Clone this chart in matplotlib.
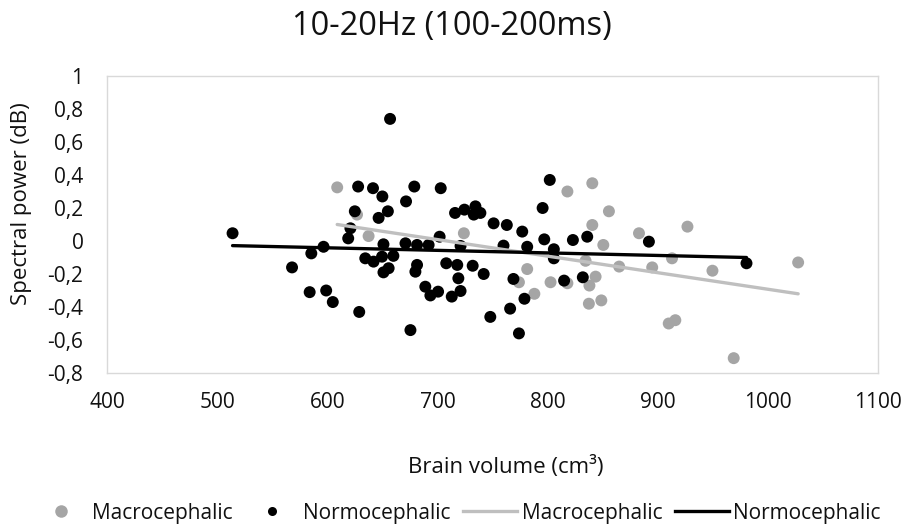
import matplotlib
matplotlib.use("Agg")
import matplotlib.pyplot as plt
from matplotlib.lines import Line2D

plt.rcParams['font.family'] = ['Open Sans', 'DejaVu Sans']

# ---- data ----
macro_x = [609, 627, 637.5, 724, 774, 781.5, 788, 802.7, 818, 818, 834.5, 838, 837.5,
           840.6, 840.6, 843.6, 848.8, 850.6, 855.7, 865, 883, 895, 910, 913, 916,
           927, 949.7, 969, 1027.5]
macro_y = [0.325, 0.16, 0.03, 0.047, -0.25, -0.17, -0.32, -0.25, -0.256, 0.30, -0.12, -0.27, -0.38,
           0.35, 0.097, -0.216, -0.36, -0.024, 0.18, -0.155, 0.047, -0.16, -0.50, -0.105, -0.48,
           0.087, -0.18, -0.71, -0.13]

normo_x = [514, 568, 584, 585.5, 596.6, 599, 605, 619, 621, 625, 628, 629, 634.5, 641.5,
           642, 646.6, 650, 649.7, 651, 651, 655, 655.7, 657, 660, 671, 671.5, 675.5,
           679, 680, 681.5, 681.5, 689, 692, 693.6, 700.6, 702, 703, 708, 713, 716,
           718, 719, 721, 721, 724.5, 732, 733, 734.5, 739, 742, 748, 751, 760, 763,
           766, 769, 774, 777, 779, 781.5, 795.5, 797, 802, 805.7, 805.7, 815, 823,
           832, 836, 892, 980.6]
normo_y = [0.047, -0.16, -0.31, -0.075, -0.035, -0.30, -0.37, 0.016, 0.077, 0.18, 0.33, -0.43, -0.105, 0.32,
           -0.125, 0.14, 0.27, -0.095, -0.02, -0.19, 0.18, -0.165, 0.74, -0.09, -0.014, 0.24, -0.54,
           0.33, -0.186, -0.024, -0.145, -0.277, -0.024, -0.33, -0.307, 0.026, 0.32, -0.135, -0.337, 0.17,
           -0.145, -0.226, -0.03, -0.303, 0.19, -0.15, 0.16, 0.21, 0.17, -0.2, -0.46, 0.107, -0.028, 0.097,
           -0.41, -0.23, -0.56, 0.057, -0.35, -0.035, 0.20, 0.01, 0.37, -0.05, -0.105, -0.24, 0.006,
           -0.22, 0.026, -0.004, -0.135]

# linear trendlines
trend_macro_x = [609, 1027.5]
trend_macro_y = [0.10, -0.32]
trend_normo_x = [514, 980.6]
trend_normo_y = [-0.028, -0.10]

x_ticks = [400, 500, 600, 700, 800, 900, 1000, 1100]
y_ticks = [-0.8, -0.6, -0.4, -0.2, 0, 0.2, 0.4, 0.6, 0.8, 1]
y_tick_labels = ['-0,8', '-0,6', '-0,4', '-0,2', '0', '0,2', '0,4', '0,6', '0,8', '1']

title = '10-20Hz (100-200ms)'
xlabel = 'Brain volume (cm³)'
ylabel = 'Spectral power (dB)'

# ---- style ----
GRAY_M = '#A5A5A5'
GRAY_L = '#BFBFBF'
BLACK = '#000000'
TEXT = '#111111'

fig = plt.figure(figsize=(9.04, 5.31), dpi=100)
ax = fig.add_axes([107/904, 1-373/531, (878-107)/904, (373-76)/531])

ax.scatter(macro_x, macro_y, s=74, color=GRAY_M, edgecolors='none', zorder=2)
ax.scatter(normo_x, normo_y, s=74, color=BLACK, edgecolors='none', zorder=2.1)
ax.plot(trend_macro_x, trend_macro_y, color=GRAY_L, lw=2.4, solid_capstyle='round', zorder=3)
ax.plot(trend_normo_x, trend_normo_y, color=BLACK, lw=2.4, solid_capstyle='round', zorder=3.1)

ax.set_xlim(400, 1100)
ax.set_ylim(-0.8, 1)
ax.set_xticks(x_ticks)
ax.set_xticklabels([str(v) for v in x_ticks])
ax.set_yticks(y_ticks)
ax.set_yticklabels(y_tick_labels)
ax.tick_params(axis='both', length=0, labelsize=15, colors=TEXT)
ax.tick_params(axis='y', pad=17)
ax.tick_params(axis='x', pad=14)
for sp in ax.spines.values():
    sp.set_color('#D9D9D9')
    sp.set_linewidth(1.0)

fig.text(452/904, 1-27/531, title, ha='center', va='center', fontsize=23.5, color=TEXT)
fig.text(506/904, 1-467/531, xlabel, ha='center', va='center', fontsize=16, color=TEXT)
fig.text(22/904, 1-204/531, ylabel, ha='center', va='center', rotation=90, fontsize=16, color=TEXT)

handles = [
    Line2D([], [], ls='none', marker='o', markersize=9, color=GRAY_M, markeredgewidth=0),
    Line2D([], [], ls='none', marker='o', markersize=6.5, color=BLACK, markeredgewidth=0),
    Line2D([], [], color=GRAY_L, lw=2.4),
    Line2D([], [], color=BLACK, lw=2.4),
]
labels = ['Macrocephalic', 'Normocephalic', 'Macrocephalic', 'Normocephalic']
fig.legend(handles, labels, loc='center', bbox_to_anchor=(457/904, 1-513/531), ncol=4,
           frameon=False, fontsize=15, handlelength=2.6, handletextpad=0.2,
           columnspacing=0.6, borderaxespad=0, labelcolor=TEXT)

fig.savefig('out.png', dpi=100)
